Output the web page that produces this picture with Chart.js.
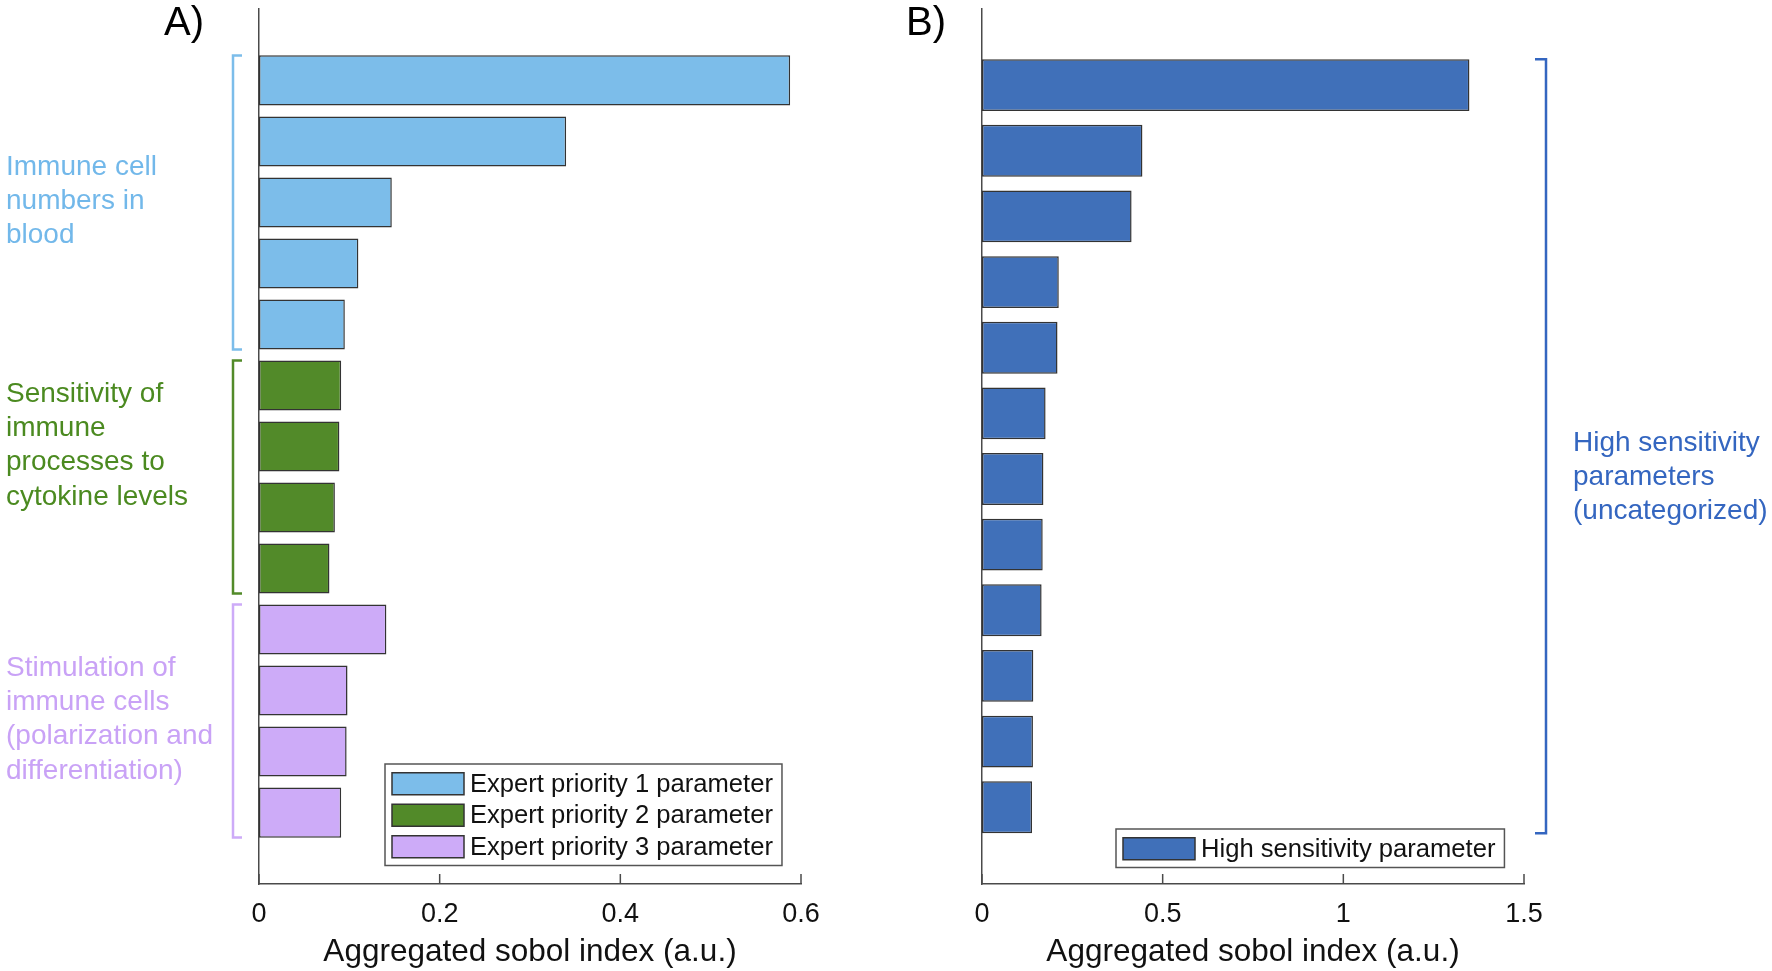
<!DOCTYPE html>
<html>
<head>
<meta charset="utf-8">
<script src="https://cdn.jsdelivr.net/npm/chart.js@4.4.1/dist/chart.umd.min.js"></script>
<style>
html, body { margin: 0; padding: 0; background: #fff; width: 1772px; height: 971px; overflow: hidden; }
.panel { position: absolute; top: 0; width: 886px; height: 971px; }
#wrapA { left: 0; }
#wrapB { left: 886px; }
</style>
</head>
<body>
<div class="panel" id="wrapA"><canvas id="chartA" width="886" height="971"></canvas></div>
<div class="panel" id="wrapB"><canvas id="chartB" width="886" height="971"></canvas></div>
<script>
// values (top bar first)
const priority1 = [0.588, 0.340, 0.147, 0.110, 0.095];
const priority2 = [0.091, 0.089, 0.084, 0.078];
const priority3 = [0.141, 0.098, 0.097, 0.091];
const highSensitivity = [1.349, 0.444, 0.414, 0.2125, 0.209, 0.176, 0.170, 0.168, 0.165, 0.142, 0.141, 0.1385];

const ticksA = [0, 0.2, 0.4, 0.6];
const ticksB = [0, 0.5, 1, 1.5];

const seriesLabelsA = ['Expert priority 1 parameter', 'Expert priority 2 parameter', 'Expert priority 3 parameter'];
const seriesLabelB = 'High sensitivity parameter';

const groupTextA = [
    ['Immune cell', 'numbers in', 'blood'],
    ['Sensitivity of', 'immune', 'processes to', 'cytokine levels'],
    ['Stimulation of', 'immune cells', '(polarization and', 'differentiation)']
];
const groupTextB = ['High sensitivity', 'parameters', '(uncategorized)'];

const FONT = '"Liberation Sans", Arial, Helvetica, sans-serif';
const axisColor = '#4a4a4a';
const colorsA = ['#7cbdea', '#528a29', '#cdabf8'];
const textColorsA = ['#72b8ea', '#4b8a20', '#c9a2f6'];
const colorB = '#4070b9';
const textColorB = '#3466c0';

// turn a list of values into {x, y} points starting at a given row
function rows(values, start) {
    return values.map((v, i) => ({ x: v, y: start + i }));
}

// MATLAB style ticks pointing into the plot
const inwardTicks = {
    id: 'inwardTicks',
    afterDatasetsDraw(chart) {
        const ctx = chart.ctx;
        const xs = chart.scales.x;
        const area = chart.chartArea;
        ctx.save();
        ctx.strokeStyle = axisColor;
        ctx.lineWidth = 1.5;
        xs.ticks.forEach(t => {
            const px = xs.getPixelForValue(t.value);
            ctx.beginPath();
            ctx.moveTo(px, area.bottom);
            ctx.lineTo(px, area.bottom - 10);
            ctx.stroke();
        });
        ctx.restore();
    }
};

// brackets + coloured group text, panel letter
const groupNotes = {
    id: 'groupNotes',
    afterDraw(chart, args, opts) {
        const ctx = chart.ctx;
        const ys = chart.scales.y;
        const half = opts.halfBar;
        ctx.save();
        opts.groups.forEach(g => {
            const top = ys.getPixelForValue(g.from) - half;
            const bottom = ys.getPixelForValue(g.to) + half;
            ctx.strokeStyle = g.color;
            ctx.lineWidth = 2.5;
            ctx.beginPath();
            ctx.moveTo(g.tickX, top);
            ctx.lineTo(g.lineX, top);
            ctx.lineTo(g.lineX, bottom);
            ctx.lineTo(g.tickX, bottom);
            ctx.stroke();
            ctx.fillStyle = g.textColor;
            ctx.font = '28px ' + FONT;
            ctx.textBaseline = 'middle';
            ctx.textAlign = 'left';
            g.lines.forEach((line, i) => ctx.fillText(line, g.textX, g.textY + i * 34.3));
        });
        ctx.fillStyle = '#000';
        ctx.font = '40px ' + FONT;
        ctx.textBaseline = 'alphabetic';
        ctx.fillText(opts.letter, opts.letterX, 35);
        ctx.restore();
    }
};

// boxed legend inside the plot, like MATLAB's
const boxLegend = {
    id: 'boxLegend',
    afterDraw(chart, args, opts) {
        const ctx = chart.ctx;
        const sets = chart.data.datasets;
        ctx.save();
        ctx.font = '25.6px ' + FONT;
        const textW = Math.max(...sets.map(d => ctx.measureText(d.label).width));
        const w = 85 + textW + 9;
        const h = 4 + sets.length * 31.5 + 3;
        ctx.fillStyle = '#fff';
        ctx.fillRect(opts.left, opts.top, w, h);
        ctx.strokeStyle = '#555';
        ctx.lineWidth = 1.5;
        ctx.strokeRect(opts.left, opts.top, w, h);
        sets.forEach((d, i) => {
            const cy = opts.top + 4 + 31.5 * i + 15.75;
            ctx.fillStyle = d.backgroundColor;
            ctx.fillRect(opts.left + 7, cy - 11, 72, 22);
            ctx.strokeStyle = '#333';
            ctx.lineWidth = 1.5;
            ctx.strokeRect(opts.left + 7, cy - 11, 72, 22);
            ctx.fillStyle = '#111';
            ctx.textBaseline = 'middle';
            ctx.fillText(d.label, opts.left + 85, cy + 1);
        });
        ctx.restore();
    }
};

function baseOptions(min, max, tickList, yMin, yMax, barPct, pad) {
    return {
        responsive: false,
        animation: false,
        indexAxis: 'y',
        layout: { padding: pad },
        datasets: { bar: { grouped: false, categoryPercentage: 1, barPercentage: barPct, borderSkipped: false } },
        scales: {
            x: {
                type: 'linear',
                min: min,
                max: max,
                afterBuildTicks: s => { s.ticks = tickList.map(v => ({ value: v })); },
                afterFit: s => { s.height = 87; },
                grid: { display: false },
                border: { display: true, color: axisColor, width: 1.5 },
                ticks: { color: '#111', font: { family: FONT, size: 27 }, padding: 6, maxRotation: 0, callback: v => String(v) },
                title: { display: true, text: 'Aggregated sobol index (a.u.)', color: '#111', font: { family: FONT, size: 31.5 }, padding: { top: 0, bottom: 0 } }
            },
            y: {
                type: 'linear',
                reverse: true,
                offset: false,
                min: yMin,
                max: yMax,
                afterFit: s => { s.width = 0; },
                grid: { display: false },
                border: { display: true, color: axisColor, width: 1.5 },
                ticks: { display: false }
            }
        },
        plugins: { legend: { display: false }, tooltip: { enabled: false } }
    };
}

const optsA = baseOptions(0, 0.6, ticksA, -1.17, 13.17, 0.82, { left: 259, right: 85, top: 9, bottom: 0 });
optsA.plugins.boxLegend = { left: 385, top: 764 };
optsA.plugins.groupNotes = {
    letter: 'A)', letterX: 164, halfBar: 25,
    groups: [
        { from: 0, to: 4, color: colorsA[0], textColor: textColorsA[0], lineX: 233, tickX: 242, textX: 6, textY: 167, lines: groupTextA[0] },
        { from: 5, to: 8, color: colorsA[1], textColor: textColorsA[1], lineX: 233, tickX: 242, textX: 6, textY: 394, lines: groupTextA[1] },
        { from: 9, to: 12, color: colorsA[2], textColor: textColorsA[2], lineX: 233, tickX: 242, textX: 6, textY: 668, lines: groupTextA[2] }
    ]
};

new Chart(document.getElementById('chartA'), {
    type: 'bar',
    data: {
        datasets: [
            { label: seriesLabelsA[0], data: rows(priority1, 0), backgroundColor: colorsA[0], borderColor: '#333', borderWidth: 1.5 },
            { label: seriesLabelsA[1], data: rows(priority2, priority1.length), backgroundColor: colorsA[1], borderColor: '#333', borderWidth: 1.5 },
            { label: seriesLabelsA[2], data: rows(priority3, priority1.length + priority2.length), backgroundColor: colorsA[2], borderColor: '#333', borderWidth: 1.5 }
        ]
    },
    options: optsA,
    plugins: [inwardTicks, groupNotes, boxLegend]
});

const optsB = baseOptions(0, 1.5, ticksB, -1.16, 12.17, 0.79, { left: 96, right: 248, top: 9, bottom: 0 });
optsB.plugins.boxLegend = { left: 230, top: 829 };
optsB.plugins.groupNotes = {
    letter: 'B)', letterX: 20, halfBar: 26,
    groups: [
        { from: 0, to: highSensitivity.length - 1, color: textColorB, textColor: textColorB, lineX: 660, tickX: 649, textX: 687, textY: 443, lines: groupTextB }
    ]
};

new Chart(document.getElementById('chartB'), {
    type: 'bar',
    data: {
        datasets: [
            { label: seriesLabelB, data: rows(highSensitivity, 0), backgroundColor: colorB, borderColor: '#333', borderWidth: 1.5 }
        ]
    },
    options: optsB,
    plugins: [inwardTicks, groupNotes, boxLegend]
});
</script>
</body>
</html>
